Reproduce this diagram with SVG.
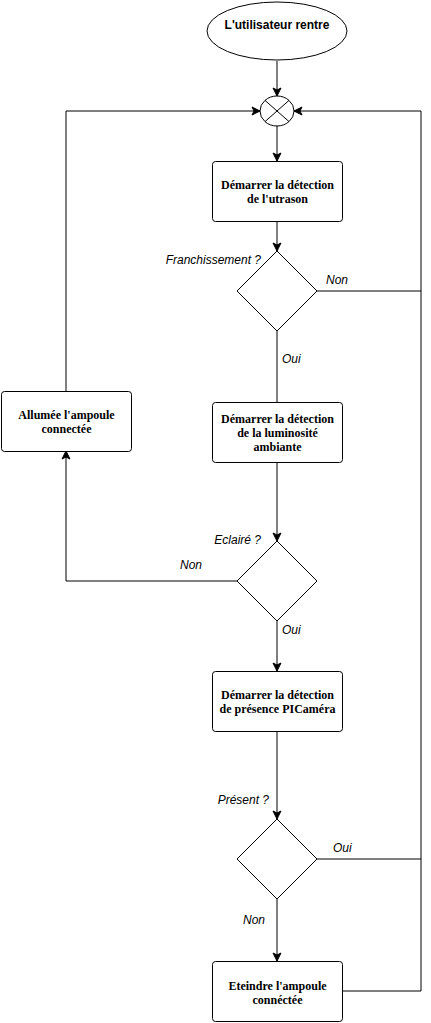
<svg xmlns="http://www.w3.org/2000/svg" width="431" height="1023" viewBox="0 0 431 1023">
<style>
.shape{fill:#fff;stroke:#000;stroke-width:1}
.box{font-family:"Liberation Serif",serif;font-weight:bold;font-size:12px;text-anchor:middle;fill:#000}
.lbl{font-family:"Liberation Sans",sans-serif;font-style:italic;font-size:12px;fill:#000}
.start{font-family:"Liberation Sans",sans-serif;font-weight:bold;font-size:12px;text-anchor:middle;fill:#000}
.edge{fill:none;stroke:#000;stroke-width:1}
</style>
<defs>
<marker id="arr" markerUnits="userSpaceOnUse" markerWidth="10" markerHeight="10" viewBox="0 0 10 10" refX="9" refY="5" orient="auto">
<path d="M1,1 L9,5 L1,9 L3,5 z" fill="#000" stroke="#000" stroke-width="1"/>
</marker>
</defs>
<rect width="431" height="1023" fill="#fff"/>
<g id="connectors">
<path class="edge" d="M277,61 V96" marker-end="url(#arr)"/>
<path class="edge" d="M277,126 V161" marker-end="url(#arr)"/>
<path class="edge" d="M277,221 V251" marker-end="url(#arr)"/>
<path class="edge" d="M317,291 H421 V111 H294" marker-end="url(#arr)"/>
<path class="edge" d="M277,331 V402"/>
<path class="edge" d="M277,462 V541" marker-end="url(#arr)"/>
<path class="edge" d="M237,581 H66 V451" marker-end="url(#arr)"/>
<path class="edge" d="M66,391 V111 H260" marker-end="url(#arr)"/>
<path class="edge" d="M277,621 V671" marker-end="url(#arr)"/>
<path class="edge" d="M277,731 V819" marker-end="url(#arr)"/>
<path class="edge" d="M317,859 H421"/>
<path class="edge" d="M277,899 V961" marker-end="url(#arr)"/>
<path class="edge" d="M342,991 H421 V291"/>
<text class="lbl" x="261" y="264" text-anchor="end">Franchissement ?</text>
<text class="lbl" x="326" y="284">Non</text>
<text class="lbl" x="282" y="363">Oui</text>
<text class="lbl" x="261" y="544" text-anchor="end">Eclairé ?</text>
<text class="lbl" x="180" y="569">Non</text>
<text class="lbl" x="282" y="634">Oui</text>
<text class="lbl" x="269" y="804" text-anchor="end">Présent ?</text>
<text class="lbl" x="333" y="852">Oui</text>
<text class="lbl" x="243" y="924">Non</text>
</g>
<g id="start">
<ellipse class="shape" cx="277" cy="31" rx="70" ry="29"/>
<text class="start" x="277" y="29">L'utilisateur rentre</text>
</g>
<g id="merge">
<ellipse class="shape" cx="277" cy="111" rx="17" ry="15"/>
<path class="edge" d="M265,100.4 L289,121.6 M289,100.4 L265,121.6"/>
</g>
<g id="detect-ultrason">
<rect class="shape" x="212.5" y="161.5" width="130" height="60" rx="3"/>
<text class="box" x="277.5" y="189">Démarrer la détection</text>
<text class="box" x="277.5" y="203">de l'utrason</text>
</g>
<g id="dec-franchissement">
<path class="shape" d="M277,251 L317,291 L277,331 L237,291 z"/>
</g>
<g id="detect-luminosite">
<rect class="shape" x="212.5" y="402.5" width="130" height="60" rx="3"/>
<text class="box" x="277.5" y="423">Démarrer la détection</text>
<text class="box" x="277.5" y="437">de la luminosité</text>
<text class="box" x="277.5" y="451">ambiante</text>
</g>
<g id="allumee">
<rect class="shape" x="1.5" y="391.5" width="130" height="60" rx="3"/>
<text class="box" x="66.5" y="419">Allumée l'ampoule</text>
<text class="box" x="66.5" y="433">connectée</text>
</g>
<g id="dec-eclaire">
<path class="shape" d="M277,541 L317,581 L277,621 L237,581 z"/>
</g>
<g id="detect-presence">
<rect class="shape" x="212.5" y="671.5" width="130" height="60" rx="3"/>
<text class="box" x="277.5" y="699">Démarrer la détection</text>
<text class="box" x="277.5" y="713">de présence PICaméra</text>
</g>
<g id="dec-present">
<path class="shape" d="M277,819 L317,859 L277,899 L237,859 z"/>
</g>
<g id="eteindre">
<rect class="shape" x="212.5" y="961.5" width="130" height="60" rx="3"/>
<text class="box" x="277.5" y="990">Eteindre l'ampoule</text>
<text class="box" x="277.5" y="1004">connéctée</text>
</g>
</svg>
